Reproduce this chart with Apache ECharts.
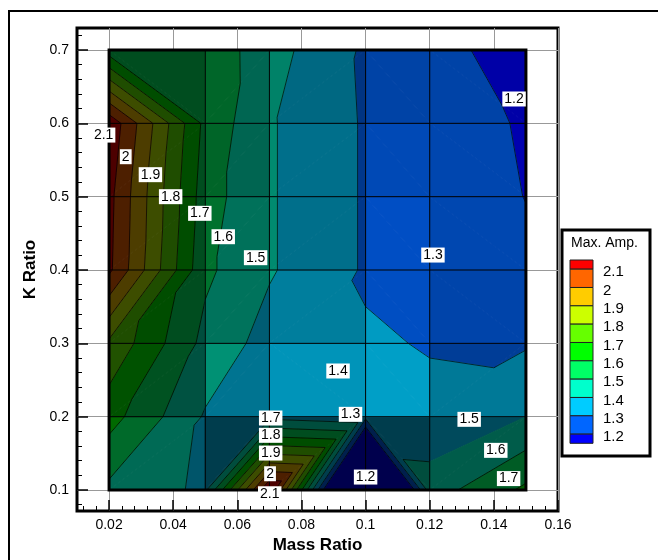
<!DOCTYPE html>
<html>
<head>
<meta charset="UTF-8">
<title>Max. Amp.</title>
<script src="https://cdn.jsdelivr.net/npm/echarts@6.0.0/dist/echarts.min.js"></script>
<style>html,body{margin:0;padding:0;background:#fff;}</style>
</head>
<body>
<div id="main" style="width:658px;height:560px;"></div>
<script type="text/javascript">
var FONT = '"Liberation Sans", Arial, Helvetica, sans-serif';

// mesh nodes
var massRatio = [0.02, 0.05, 0.07, 0.1, 0.12, 0.15];
var kRatio = [0.1, 0.2, 0.3, 0.4, 0.5, 0.6, 0.7];
// max amplitude at each node, one row per K ratio (0.1 ... 0.7)
var maxAmp = [
    [1.476, 1.38, 2.21, 0.4, 1.45, 1.62],
    [1.64, 1.39, 1.37, 1.33, 1.32, 1.40],
    [1.78, 1.47, 1.36, 1.31, 1.295, 1.29],
    [2.12, 1.52, 1.41, 1.29, 1.27, 1.22],
    [2.13, 1.545, 1.41, 1.29, 1.26, 1.198],
    [2.174, 1.572, 1.41, 1.29, 1.25, 1.19],
    [1.55, 1.57, 1.44, 1.285, 1.23, 1.16]
];
// contour levels and flood colours (lowest band first)
var levels = [1.2, 1.3, 1.4, 1.5, 1.6, 1.7, 1.8, 1.9, 2.0, 2.1];
var levelColors = ['#0000ff', '#0066ff', '#00ccff', '#00ffcc', '#00ff66', '#00ff00',
                   '#66ff00', '#ccff00', '#ffcc00', '#ff6600', '#ff0000'];
// contour labels [mass ratio, k ratio, text]
var contourLabels = [
    [0.0183, 0.584, '2.1'], [0.0252, 0.5545, '2'], [0.0329, 0.530, '1.9'],
    [0.0392, 0.500, '1.8'], [0.0483, 0.4773, '1.7'], [0.0556, 0.4454, '1.6'],
    [0.0657, 0.4168, '1.5'], [0.1463, 0.6332, '1.2'], [0.121, 0.4204, '1.3'],
    [0.0914, 0.2623, '1.4'], [0.0953, 0.2032, '1.3'], [0.1, 0.1177, '1.2'],
    [0.1323, 0.1964, '1.5'], [0.1406, 0.1541, '1.6'], [0.1446, 0.1156, '1.7'],
    [0.0704, 0.1982, '1.7'], [0.0704, 0.1746, '1.8'], [0.0704, 0.1504, '1.9'],
    [0.0702, 0.1222, '2'], [0.0701, 0.0949, '2.1']
];
var xTicks = [0.02, 0.04, 0.06, 0.08, 0.1, 0.12, 0.14, 0.16];
var yTicks = [0.1, 0.2, 0.3, 0.4, 0.5, 0.6, 0.7];

var xMinor = [], yMinor = [], k;
for (k = 3; k <= 39; k++) { if (k % 5) xMinor.push(+(k * 0.004).toFixed(4)); }
for (k = 4; k <= 36; k++) { if (k % 5) yMinor.push(+(k * 0.02).toFixed(4)); }

function shadeColor(hex, f) {
    var r = parseInt(hex.slice(1, 3), 16), g = parseInt(hex.slice(3, 5), 16), b = parseInt(hex.slice(5, 7), 16);
    return 'rgb(' + Math.round(r * f) + ',' + Math.round(g * f) + ',' + Math.round(b * f) + ')';
}

function clipBand(poly, lvl, above) {
    var out = [];
    for (var n = 0; n < poly.length; n++) {
        var a = poly[n], b = poly[(n + 1) % poly.length];
        var ina = above ? a.v >= lvl : a.v <= lvl;
        var inb = above ? b.v >= lvl : b.v <= lvl;
        if (ina) out.push(a);
        if (ina !== inb) {
            var t = (lvl - a.v) / (b.v - a.v);
            out.push({x: a.x + t * (b.x - a.x), y: a.y + t * (b.y - a.y), v: lvl});
        }
    }
    return out;
}

var cells = [];
for (var j = 0; j < kRatio.length - 1; j++) {
    for (var i = 0; i < massRatio.length - 1; i++) {
        cells.push([massRatio[i], kRatio[j], i, j]);
    }
}

function renderCell(params, api) {
    var ci = api.value(2), cj = api.value(3);
    function node(ii, jj) {
        var p = api.coord([massRatio[ii], kRatio[jj]]);
        return {x: p[0], y: p[1], v: maxAmp[jj][ii]};
    }
    var a = node(ci, cj), b = node(ci + 1, cj), c = node(ci + 1, cj + 1), d = node(ci, cj + 1);
    var w = b.x - a.x, h = a.y - d.y;
    var gx = ((b.v - a.v) + (c.v - d.v)) / 2 / w;
    var gy = ((d.v - a.v) + (c.v - b.v)) / 2 / h;
    // flat lighting: steeper cells come out darker
    var shade = Math.max(0.3, 0.95 / (1 + 600 * Math.sqrt(gx * gx + gy * gy)));
    var tris = Math.abs(a.v - c.v) <= Math.abs(b.v - d.v) ? [[a, b, c], [a, c, d]] : [[a, b, d], [b, c, d]];
    var children = [];
    tris.forEach(function (tri) {
        for (var m = 0; m <= levels.length; m++) {
            var poly = tri;
            if (m > 0) poly = clipBand(poly, levels[m - 1], true);
            if (m < levels.length) poly = clipBand(poly, levels[m], false);
            if (poly.length < 3) continue;
            var col = shadeColor(levelColors[m], shade);
            children.push({
                type: 'polygon',
                shape: {points: poly.map(function (p) { return [p.x, p.y]; })},
                style: {fill: col, stroke: col, lineWidth: 1}
            });
        }
    });
    tris.forEach(function (tri) {
        levels.forEach(function (lv) {
            var pts = [];
            for (var e = 0; e < 3; e++) {
                var p = tri[e], q = tri[(e + 1) % 3];
                if ((p.v - lv) * (q.v - lv) < 0) {
                    var t = (lv - p.v) / (q.v - p.v);
                    pts.push([p.x + t * (q.x - p.x), p.y + t * (q.y - p.y)]);
                }
            }
            if (pts.length === 2) {
                children.push({
                    type: 'line',
                    shape: {x1: pts[0][0], y1: pts[0][1], x2: pts[1][0], y2: pts[1][1]},
                    style: {stroke: '#000', lineWidth: 0.8, opacity: 0.85}
                });
            }
        });
    });
    return {type: 'group', children: children};
}

function renderMesh(params, api) {
    var children = [];
    var p0 = api.coord([massRatio[0], kRatio[0]]);
    var p1 = api.coord([massRatio[massRatio.length - 1], kRatio[kRatio.length - 1]]);
    massRatio.forEach(function (mx) {
        var px = api.coord([mx, kRatio[0]])[0];
        children.push({type: 'line', shape: {x1: px, y1: p0[1], x2: px, y2: p1[1]}, style: {stroke: '#000', lineWidth: 1}});
    });
    kRatio.forEach(function (ky) {
        var py = api.coord([massRatio[0], ky])[1];
        children.push({type: 'line', shape: {x1: p0[0], y1: py, x2: p1[0], y2: py}, style: {stroke: '#000', lineWidth: 1}});
    });
    children.push({
        type: 'rect',
        shape: {x: p0[0], y: p1[1], width: p1[0] - p0[0], height: p0[1] - p1[1]},
        style: {fill: null, stroke: '#000', lineWidth: 3}
    });
    return {type: 'group', children: children};
}

function renderLabel(params, api) {
    var p = api.coord([api.value(0), api.value(1)]);
    return {
        type: 'text', x: p[0], y: p[1],
        style: {text: contourLabels[params.dataIndex][2], fill: '#000', fontSize: 14, fontFamily: FONT,
            align: 'center', verticalAlign: 'middle', backgroundColor: '#fff', padding: [1, 2, 0, 2]}
    };
}

// colour legend
var legend = [];
legend.push({type: 'rect', shape: {x: 562, y: 230, width: 88, height: 226},
    style: {fill: '#fff', stroke: '#000', lineWidth: 3}});
legend.push({type: 'text', style: {text: 'Max. Amp.', x: 571, y: 243, fontSize: 14,
    fontFamily: FONT, fill: '#000', verticalAlign: 'middle'}});
var sh = 18.33, sy = 260, nb = levelColors.length;
for (k = 0; k < nb; k++) {
    var swTop = k === 0 ? sy : sy + sh / 2 + (k - 1) * sh;
    var swH = (k === 0 || k === nb - 1) ? sh / 2 : sh;
    legend.push({type: 'rect', shape: {x: 570, y: swTop, width: 23, height: swH},
        style: {fill: levelColors[nb - 1 - k], stroke: '#222', lineWidth: 1}});
}
for (k = 0; k < levels.length; k++) {
    legend.push({type: 'text', style: {text: String(levels[levels.length - 1 - k]),
        x: 603, y: sy + sh / 2 + k * sh + 3, fontSize: 15, fontFamily: FONT,
        fill: '#000', verticalAlign: 'middle'}});
}
legend.push({type: 'rect', shape: {x: 9, y: 11, width: 800, height: 800},
    style: {fill: null, stroke: '#000', lineWidth: 2}});

var myChart = echarts.init(document.getElementById('main'));
var tickFmt = function (v) { return String(+(+v).toFixed(3)); };
var option = {
    animation: false,
    grid: {left: 77, top: 28, width: 481, height: 483, show: true,
        borderColor: '#000', borderWidth: 3, backgroundColor: 'transparent'},
    xAxis: [{
        type: 'value', min: 0.01, max: 0.16, position: 'bottom',
        name: 'Mass Ratio', nameLocation: 'middle', nameGap: 24,
        nameTextStyle: {fontSize: 17, fontWeight: 'bold', fontFamily: FONT, color: '#000'},
        axisLine: {show: false},
        axisTick: {show: true, inside: true, length: 11, customValues: xTicks,
            lineStyle: {color: '#000', width: 1.5}},
        axisLabel: {customValues: xTicks, formatter: tickFmt, fontSize: 14,
            fontFamily: FONT, color: '#000', margin: 7},
        splitLine: {show: true, lineStyle: {color: '#999', width: 1}}
    }, {
        type: 'value', min: 0.01, max: 0.16, position: 'bottom',
        axisLine: {show: false}, axisLabel: {show: false}, splitLine: {show: false},
        axisTick: {show: true, inside: true, length: 5, customValues: xMinor,
            lineStyle: {color: '#000', width: 1}}
    }],
    yAxis: [{
        type: 'value', min: 0.0714, max: 0.73, position: 'left',
        name: 'K Ratio', nameLocation: 'middle', nameGap: 36,
        nameTextStyle: {fontSize: 17, fontWeight: 'bold', fontFamily: FONT, color: '#000'},
        axisLine: {show: false},
        axisTick: {show: true, inside: true, length: 11, customValues: yTicks,
            lineStyle: {color: '#000', width: 1.5}},
        axisLabel: {customValues: yTicks, formatter: tickFmt, fontSize: 14,
            fontFamily: FONT, color: '#000', margin: 8},
        splitLine: {show: true, lineStyle: {color: '#999', width: 1}}
    }, {
        type: 'value', min: 0.0714, max: 0.73, position: 'left',
        axisLine: {show: false}, axisLabel: {show: false}, splitLine: {show: false},
        axisTick: {show: true, inside: true, length: 5, customValues: yMinor,
            lineStyle: {color: '#000', width: 1}}
    }],
    graphic: legend,
    series: [{
        type: 'custom', name: 'Max. Amp.', renderItem: renderCell, data: cells,
        encode: {x: 0, y: 1}, clip: true, z: 2, silent: true
    }, {
        type: 'custom', name: 'mesh', renderItem: renderMesh, data: [[0.02, 0.1]],
        encode: {x: 0, y: 1}, z: 3, silent: true
    }, {
        type: 'custom', name: 'labels', renderItem: renderLabel, data: contourLabels,
        encode: {x: 0, y: 1}, z: 5, silent: true
    }]
};
myChart.setOption(option);
</script>
</body>
</html>
